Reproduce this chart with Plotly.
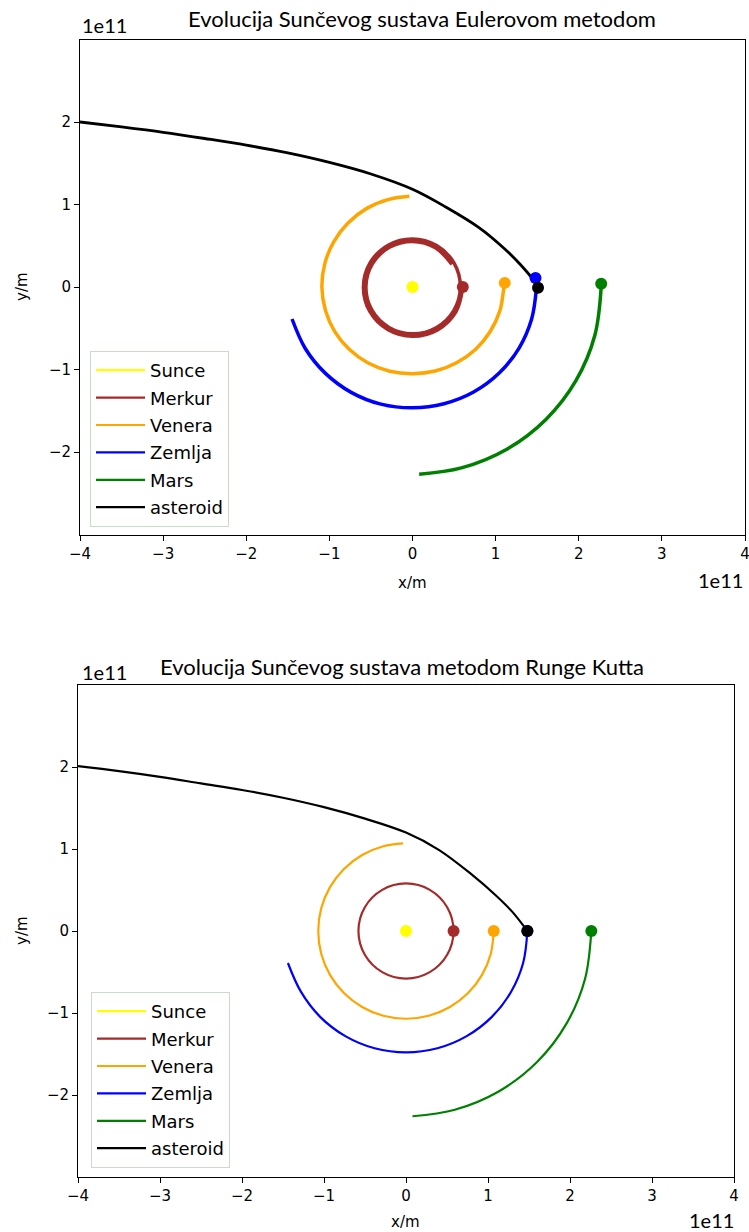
import plotly.graph_objects as go

# All coordinates in units of 1e11 m
NAMES = ["Sunce", "Merkur", "Venera", "Zemlja", "Mars", "asteroid"]
COLORS = ["yellow", "#a52a2a", "#ffa500", "blue", "green", "black"]

X_TICKS = [-4, -3, -2, -1, 0, 1, 2, 3, 4]
X_TICKTEXT = ["\u22124", "\u22123", "\u22122", "\u22121", "0", "1", "2", "3", "4"]
Y_TICKS = [-2, -1, 0, 1, 2]
Y_TICKTEXT = ["\u22122", "\u22121", "0", "1", "2"]

# ---------------- Euler method (top) ----------------
EU_SUNCE_X = [0.0]
EU_SUNCE_Y = [0.0]
EU_MERKUR_X = [0.4746, 0.2753, 0.0, -0.2778, -0.4832, -0.5605, -0.4876, -0.2828, 0.0, 0.2853, 0.4962, 0.5755,
               0.5006, 0.2903, 0.0, -0.2928, -0.5092, -0.5905, -0.5135, -0.2978, 0.0, 0.3003, 0.5222, 0.6055]
EU_MERKUR_Y = [0.274, 0.4767, 0.553, 0.4811, 0.279, 0.0, -0.2815, -0.4897, -0.568, -0.4941, -0.2865, 0.0,
               0.289, 0.5027, 0.583, 0.507, 0.294, 0.0, -0.2965, -0.5157, -0.598, -0.52, -0.3015, 0.0]
EU_VENERA_X = [-0.038, -0.285, -0.55, -0.776, -0.948, -1.055, -1.09, -1.048, -0.935, -0.758, -0.533,
               -0.274, 0.0, 0.273, 0.53, 0.757, 0.935, 1.053, 1.10, 1.109]
EU_VENERA_Y = [1.099, 1.062, 0.953, 0.776, 0.548, 0.283, 0.0, -0.281, -0.54, -0.758, -0.922,
               -1.021, -1.05, -1.019, -0.918, -0.757, -0.54, -0.282, 0.0, 0.05]
EU_ZEMLJA_X = [-1.449, -1.290, -1.047, -0.738, -0.380, 0.0, 0.379, 0.735, 1.043, 1.282, 1.434, 1.49]
EU_ZEMLJA_Y = [-0.388, -0.745, -1.047, -1.277, -1.420, -1.465, -1.415, -1.273, -1.043, -0.740, -0.384, -0.02]
EU_MARS_X = [0.08, 0.588, 1.135, 1.605, 1.966, 2.193, 2.27, 2.27]
EU_MARS_Y = [-2.27, -2.193, -1.966, -1.605, -1.135, -0.588, 0.0, 0.04]
EU_AST_X = [-4.0, -3.5, -3.0, -2.5, -2.0, -1.5, -1.0, -0.5, 0.0, 0.4, 0.8, 1.1, 1.3, 1.45, 1.51]
EU_AST_Y = [2.00, 1.94, 1.875, 1.80, 1.72, 1.625, 1.51, 1.37, 1.185, 0.97, 0.72, 0.47, 0.27, 0.09, -0.01]
# final positions (markers): Sunce, Merkur, Venera, Zemlja, Mars, asteroid
EU_END_X = [0.0, 0.605, 1.11, 1.48, 2.27, 1.51]
EU_END_Y = [0.0, 0.0, 0.05, 0.11, 0.04, -0.01]

# ---------------- Runge Kutta (bottom) ----------------
RK_SUNCE_X = [0.0]
RK_SUNCE_Y = [0.0]
RK_MERKUR_X = [0.58, 0.502, 0.29, 0.0, -0.29, -0.502, -0.58, -0.502, -0.29, 0.0, 0.29, 0.502, 0.58]
RK_MERKUR_Y = [0.0, 0.29, 0.502, 0.58, 0.502, 0.29, 0.0, -0.29, -0.502, -0.58, -0.502, -0.29, 0.0]
RK_VENERA_X = [-0.037, -0.277, -0.535, -0.757, -0.927, -1.034, -1.07, -1.034, -0.927, -0.757, -0.535,
               -0.277, 0.0, 0.277, 0.535, 0.757, 0.927, 1.034, 1.07]
RK_VENERA_Y = [1.069, 1.034, 0.927, 0.757, 0.535, 0.277, 0.0, -0.277, -0.535, -0.757, -0.927,
               -1.034, -1.07, -1.034, -0.927, -0.757, -0.535, -0.277, 0.0]
RK_ZEMLJA_X = [-1.44, -1.282, -1.047, -0.74, -0.383, 0.0, 0.383, 0.74, 1.047, 1.282, 1.43, 1.48]
RK_ZEMLJA_Y = [-0.39, -0.74, -1.047, -1.282, -1.43, -1.48, -1.43, -1.282, -1.047, -0.74, -0.383, 0.0]
RK_MARS_X = [0.079, 0.585, 1.13, 1.598, 1.957, 2.183, 2.26]
RK_MARS_Y = [-2.259, -2.183, -1.957, -1.598, -1.13, -0.585, 0.0]
RK_AST_X = [-4.0, -3.5, -3.0, -2.5, -2.0, -1.5, -1.0, -0.5, 0.0, 0.4, 0.8, 1.1, 1.3, 1.48]
RK_AST_Y = [2.01, 1.95, 1.88, 1.80, 1.72, 1.625, 1.51, 1.37, 1.20, 0.99, 0.69, 0.43, 0.23, 0.0]
RK_END_X = [0.0, 0.58, 1.07, 1.48, 2.26, 1.48]
RK_END_Y = [0.0, 0.0, 0.0, 0.0, 0.0, 0.0]

EU_PATHS = [(EU_SUNCE_X, EU_SUNCE_Y), (EU_MERKUR_X, EU_MERKUR_Y), (EU_VENERA_X, EU_VENERA_Y),
            (EU_ZEMLJA_X, EU_ZEMLJA_Y), (EU_MARS_X, EU_MARS_Y), (EU_AST_X, EU_AST_Y)]
RK_PATHS = [(RK_SUNCE_X, RK_SUNCE_Y), (RK_MERKUR_X, RK_MERKUR_Y), (RK_VENERA_X, RK_VENERA_Y),
            (RK_ZEMLJA_X, RK_ZEMLJA_Y), (RK_MARS_X, RK_MARS_Y), (RK_AST_X, RK_AST_Y)]

fig = go.Figure()


def add_panel(paths, end_x, end_y, xa, ya, legend, widths, tag):
    # legend-only entries (thin line handles like matplotlib)
    for i in range(len(NAMES)):
        fig.add_trace(go.Scatter(
            x=[None], y=[None], mode="lines", name=NAMES[i], legendgroup=tag + str(i),
            line=dict(color=COLORS[i], width=2.2),
            xaxis=xa, yaxis=ya, legend=legend, hoverinfo="skip"))
    for i, (px, py) in enumerate(paths):
        fig.add_trace(go.Scatter(
            x=px, y=py, mode="lines", showlegend=False,
            line=dict(color=COLORS[i], width=widths[i], shape="spline", smoothing=1.0),
            xaxis=xa, yaxis=ya, hoverinfo="skip"))
    for i in range(len(NAMES)):
        fig.add_trace(go.Scatter(
            x=[end_x[i]], y=[end_y[i]], mode="markers", showlegend=False,
            marker=dict(color=COLORS[i], size=12),
            xaxis=xa, yaxis=ya, hoverinfo="skip"))


add_panel(EU_PATHS, EU_END_X, EU_END_Y, "x", "y", "legend", [3.5, 3.5, 3.5, 3.5, 3.5, 2.8], "eu")
add_panel(RK_PATHS, RK_END_X, RK_END_Y, "x2", "y2", "legend2", [2.2, 2.2, 2.2, 2.2, 2.2, 2.2], "rk")

tickfont = dict(family="DejaVu Sans", size=15, color="black")
axis_common = dict(showgrid=False, zeroline=False, showline=True, mirror=True, automargin=False,
                   linecolor="black", linewidth=1, ticks="outside", ticklen=5,
                   tickwidth=1, tickcolor="black", tickfont=tickfont, ticklabeloverflow="allow")

W, H = 749, 1232

legend_common = dict(xanchor="left", yanchor="bottom", bordercolor="#c8dcc8", borderwidth=1,
                     bgcolor="rgba(255,255,255,0.8)", itemwidth=49, traceorder="grouped",
                     tracegroupgap=1,
                     font=dict(family="DejaVu Sans", size=18, color="black"))

fig.update_layout(
    width=W, height=H,
    margin=dict(l=0, r=0, t=0, b=0, pad=0),
    paper_bgcolor="white", plot_bgcolor="white",
    xaxis=dict(domain=[80 / W, 745 / W], range=[-4, 4], tickvals=X_TICKS, ticktext=X_TICKTEXT,
               anchor="y", **axis_common),
    yaxis=dict(domain=[1 - 534.5 / H, 1 - 39.5 / H], range=[-3, 3], tickvals=Y_TICKS,
               ticktext=Y_TICKTEXT, anchor="x", **axis_common),
    xaxis2=dict(domain=[78 / W, 734 / W], range=[-4, 4], tickvals=X_TICKS, ticktext=X_TICKTEXT,
                anchor="y2", **axis_common),
    yaxis2=dict(domain=[1 - 1177 / H, 1 - 685 / H], range=[-3, 3], tickvals=Y_TICKS,
                ticktext=Y_TICKTEXT, anchor="x2", **axis_common),
    legend=dict(x=90 / W, y=1 - 527 / H, **legend_common),
    legend2=dict(x=91 / W, y=1 - 1168 / H, **legend_common),
    showlegend=True,
)

title_font = dict(family="Lato", size=22, color="black")
offset_font = dict(family="Lato", size=20, color="black")
label_font = dict(family="DejaVu Sans", size=15, color="black")


def ann(text, x, y, font, xanchor="center", yanchor="middle", angle=0):
    fig.add_annotation(text=text, x=x / W, y=1 - y / H, xref="paper", yref="paper",
                       showarrow=False, font=font, xanchor=xanchor, yanchor=yanchor,
                       textangle=angle)


ann("Evolucija Sunčevog sustava Eulerovom metodom", 422, 18, title_font)
ann("1e11", 80, 25, offset_font, xanchor="left")
ann("1e11", 745, 580, offset_font, xanchor="right")
ann("x/m", 412, 583, label_font)
ann("y/m", 22, 287, label_font, angle=-90)

ann("Evolucija Sunčevog sustava metodom Runge Kutta", 402, 666, title_font)
ann("1e11", 80, 672, offset_font, xanchor="left")
ann("1e11", 736, 1220, offset_font, xanchor="right")
ann("x/m", 406, 1222, label_font)
ann("y/m", 22, 931, label_font, angle=-90)

fig.write_html("out.html", config={"displayModeBar": False},
               post_script="document.body.style.margin='0px';")
